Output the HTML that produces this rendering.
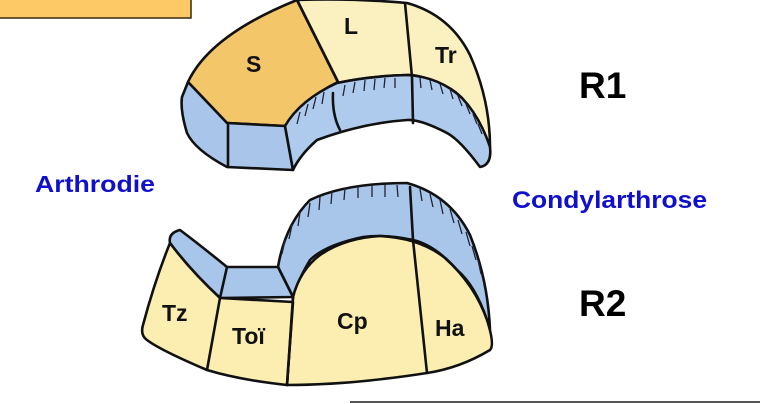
<!DOCTYPE html>
<html><head><meta charset="utf-8"><style>
html,body{margin:0;padding:0;background:#fff;width:760px;height:404px;overflow:hidden}
svg{display:block}
</style></head><body>
<svg width="760" height="404" viewBox="0 0 760 404" xmlns="http://www.w3.org/2000/svg" font-family="Liberation Sans, Arial, sans-serif" font-weight="bold">
<rect x="-2" y="-2" width="193" height="20" fill="#fcc966" stroke="#3a2a10" stroke-width="1.5"/>
<line x1="350" y1="402" x2="760" y2="402" stroke="#555" stroke-width="2"/>

<g stroke="#111" stroke-width="2.6" stroke-linejoin="round" stroke-linecap="round">
<path d="M297,0 Q350,-2 407,3 Q450,15 470,55 Q490,100 490,147 L480,127 Q465,95 447,87 Q420,74 407,75 Q370,76 337,83 Z" fill="#fbf0bf"/>
<path d="M188,82 Q210,35 297,0 L338,82 Q305,98 285,126 L227,123 Z" fill="#f4c66a"/>
<path d="M188,82 L227,123 L285,126 L293,170 L227,167 Q195,150 187,133 Q180,110 182,97 Z" fill="#a9c6ea"/>
<path d="M285,126 Q300,100 337,83 Q370,76 407,75 Q440,77 462,98 Q480,117 490,147 Q492,165 480,167 Q460,140 447,133 Q420,119 407,120 Q363,123 317,140 Q300,155 293,170 Z" fill="#aecbee"/>
<path d="M297,0 L338,82 M405,3 L412,77 M412,77 L413,123 M333,93 Q332,115 340,130 M228,123 L228,167" fill="none"/>
<path d="M278,267 Q285,225 310,200 Q345,183 407,183 Q450,195 470,235 Q488,280 490,330 L487,320 Q475,285 457,270 Q435,245 413,240 Q385,234 363,237 Q325,245 310,260 Q298,280 293,297 Z" fill="#a8c6ea"/>
<path d="M293,297 Q300,270 320,255 Q345,238 380,236 Q420,238 445,258 Q475,285 487,320 Q495,345 490,350 Q460,368 427,373 Q350,385 287,385 Z" fill="#fbeeb0"/>
<path d="M170,243 Q168,233 180,230 Q200,245 227,267 L278,267 L293,297 L220,298 Q190,270 170,243 Z" fill="#a8c6ea"/>
<path d="M170,243 Q190,270 220,298 L293,302 L287,385 Q240,380 207,370 Q160,350 147,340 Q140,335 143,325 Q155,280 170,243 Z" fill="#fbeeb0"/>
<path d="M220,298 L207,370 M227,267 L220,298 M293,297 L287,385 M413,240 L427,373 M410,187 L413,240" fill="none"/>
</g>
<g stroke="#223" stroke-width="1.3" fill="none">
<path d="M300,112 l-3,12 M308,104 l-3,12 M316,97 l-3,12 M324,92 l-2,12 M345,85 l-2,11 M355,82 l-2,11 M365,80 l-1,11 M375,79 l-1,11 M385,78 l-1,10 M395,78 l0,10 M420,78 l1,10 M430,80 l2,10 M440,84 l3,10 M450,89 l3,10 M458,96 l4,10 M466,104 l4,10 M473,114 l4,10 M478,124 l4,10"/>
<path d="M285,240 l-3,14 M292,225 l-3,14 M300,212 l-2,14 M310,203 l-2,14 M320,197 l-1,13 M332,191 l-1,13 M345,188 l-1,12 M358,186 l0,12 M372,185 l0,12 M385,185 l0,12 M397,185 l1,12 M420,189 l2,12 M430,194 l3,13 M440,200 l3,14 M450,209 l4,14 M458,220 l4,14 M466,232 l4,14 M472,246 l4,14 M478,260 l3,14"/>
</g>
<g fill="#111" font-size="23">
<text x="246" y="72">S</text>
<text x="344" y="34">L</text>
<text x="435" y="63">Tr</text>
<text x="162" y="321">Tz</text>
<text x="232" y="344">Toï</text>
<text x="337" y="329">Cp</text>
<text x="435" y="336">Ha</text>
</g>
<text x="579" y="98" font-size="37" fill="#000">R1</text>
<text x="579" y="316" font-size="37" fill="#000">R2</text>
<text x="35" y="192" font-size="23" fill="#1010cc" textLength="120" lengthAdjust="spacingAndGlyphs">Arthrodie</text>
<text x="512" y="208" font-size="24" fill="#1010cc" textLength="195" lengthAdjust="spacingAndGlyphs">Condylarthrose</text>
</svg>
</body></html>
